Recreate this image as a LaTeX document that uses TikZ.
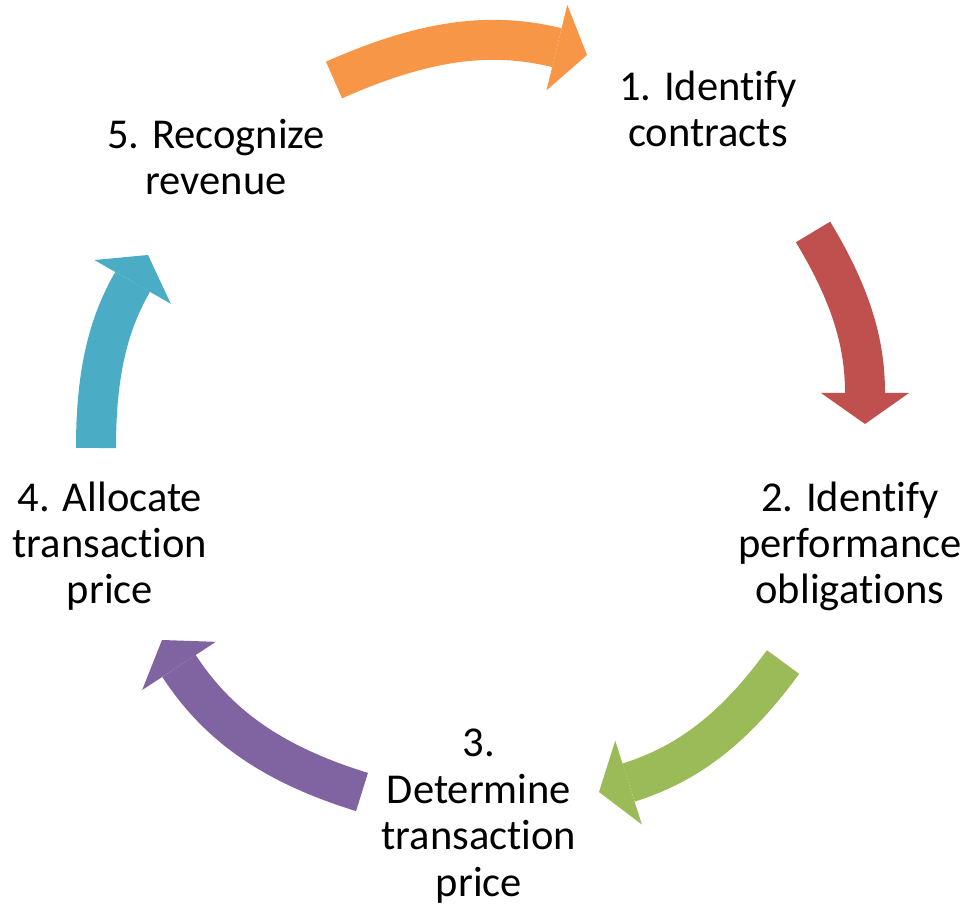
\documentclass[tikz,border=0pt]{standalone}
\usepackage{fontspec}
\setmainfont{Carlito}[Ligatures=CommonOff]
\usepackage{xcolor}
\usetikzlibrary{arrows.meta, positioning}
\definecolor{cycleOrange}{HTML}{F79646}
\definecolor{cycleRed}{HTML}{C0504D}
\definecolor{cycleGreen}{HTML}{9BBB59}
\definecolor{cyclePurple}{HTML}{8064A2}
\definecolor{cycleBlue}{HTML}{4BACC6}

\begin{document}
\begin{tikzpicture}[
    stage/.style={align=center, anchor=base, inner sep=0pt, font=\fontsize{12.1}{13.2}\selectfont},
    cyclearrow/.style={line width=0.40cm, -{Triangle[length=0.31cm, width=0.88cm, line width=0pt]}}
]
    \useasboundingbox (0,0) rectangle (9.65,9.04);

    % the five steps (placed at the baseline of their last line)
    \node[stage] (identify) at (7.08,7.57) {1. Identify\\contracts};
    \node[stage] (obligations) at (8.50,3.00) {2. Identify\\performance\\obligations};
    \node[stage] (price) at (4.79,0.08) {3.\\Determine\\transaction\\price};
    \node[stage] (allocate) at (1.10,3.00) {4. Allocate\\transaction\\price};
    \node[stage] (recognize) at (2.16,7.09) {5. Recognize\\revenue};

    % ends of the arrows
    \coordinate (orangeTail) at (3.34,8.24);
    \coordinate (orangeTip) at (5.87,8.49);
    \coordinate (redTail) at (8.13,6.72);
    \coordinate (redTip) at (8.65,4.80);
    \coordinate (greenTail) at (7.83,2.42);
    \coordinate (greenTip) at (5.99,1.12);
    \coordinate (purpleTail) at (3.62,1.12);
    \coordinate (purpleTip) at (1.62,2.64);
    \coordinate (blueTail) at (0.96,4.56);
    \coordinate (blueTip) at (1.48,6.49);

    \draw[cyclearrow, cycleOrange] (orangeTail) to[out=23.9, in=166.3] (orangeTip);
    \draw[cyclearrow, cycleRed] (redTail) to[out=-58.8, in=90] (redTip);
    \draw[cyclearrow, cycleGreen] (greenTail) to[out=-126, in=17.6] (greenTip);
    \draw[cyclearrow, cyclePurple] (purpleTail) to[out=162.9, in=-56.8] (purpleTip);
    \draw[cyclearrow, cycleBlue] (blueTail) to[out=90, in=-119.8] (blueTip);
\end{tikzpicture}
\end{document}
